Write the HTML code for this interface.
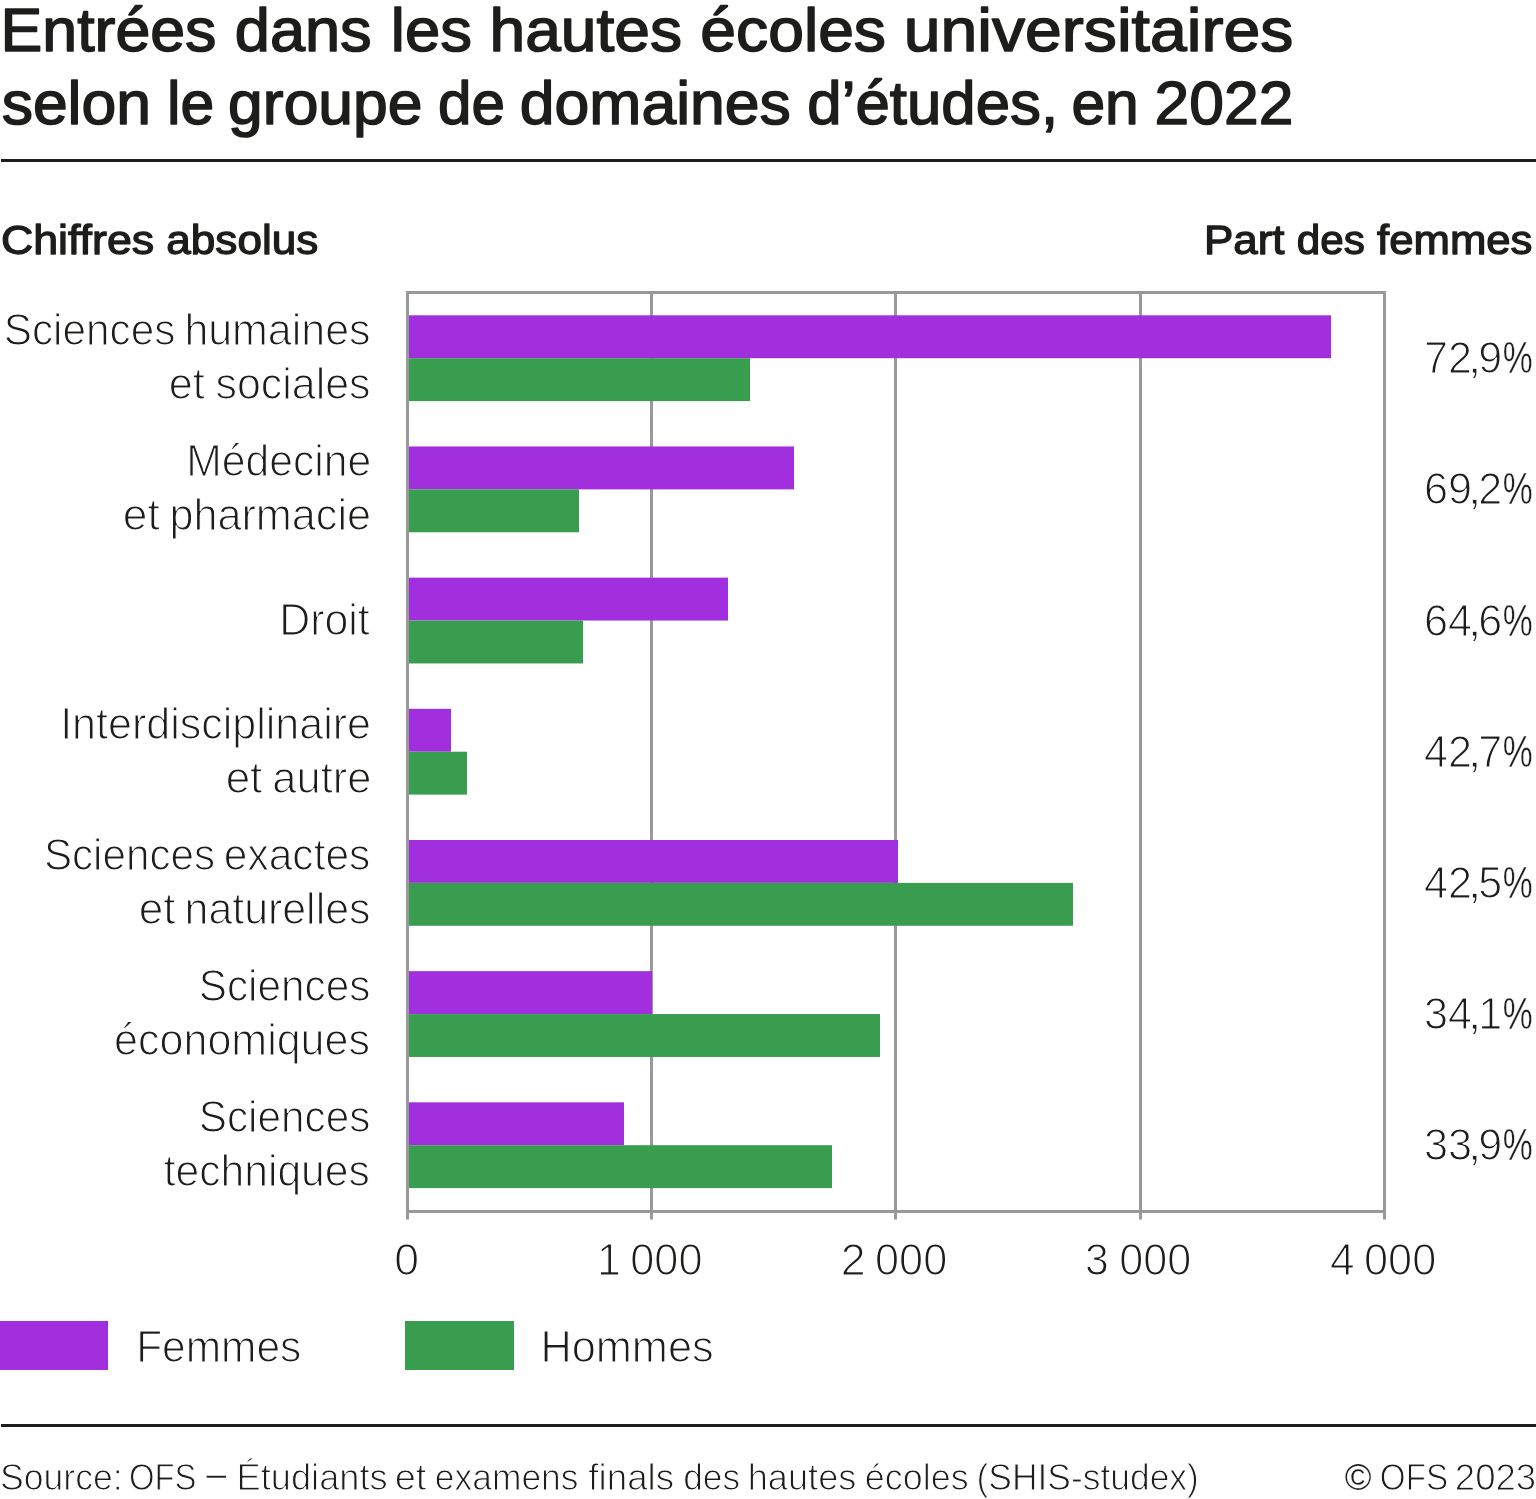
<!DOCTYPE html>
<html lang="fr">
<head>
<meta charset="utf-8">
<title>Entrées dans les hautes écoles universitaires selon le groupe de domaines d’études, en 2022</title>
<style>
html,body{margin:0;padding:0;background:#fff;}
body{width:1536px;height:1499px;overflow:hidden;font-family:"Liberation Sans",sans-serif;}
svg{display:block;}
text{font-family:"Liberation Sans",sans-serif;stroke-linejoin:round;}
</style>
</head>
<body>
<svg width="1536" height="1499" viewBox="0 0 1536 1499" fill="#1d1d1b">
<rect x="0" y="0" width="1536" height="1499" fill="#ffffff"/>
<!-- rules -->
<rect x="1" y="159" width="1535" height="3" fill="#1d1d1b"/>
<rect x="1" y="1424" width="1535" height="3" fill="#1d1d1b"/>
<!-- grid -->
<g stroke="#999999" stroke-width="3" fill="none">
<line x1="651.50" y1="292.5" x2="651.50" y2="1211.5"/>
<line x1="895.50" y1="292.5" x2="895.50" y2="1211.5"/>
<line x1="1140.50" y1="292.5" x2="1140.50" y2="1211.5"/>
</g>
<!-- bars -->
<rect x="409" y="315.30" width="922" height="42.9" fill="#a22fde"/>
<rect x="409" y="358.20" width="341" height="42.9" fill="#399d50"/>
<rect x="409" y="446.47" width="385" height="42.9" fill="#a22fde"/>
<rect x="409" y="489.37" width="170" height="42.9" fill="#399d50"/>
<rect x="409" y="577.64" width="319" height="42.9" fill="#a22fde"/>
<rect x="409" y="620.54" width="174" height="42.9" fill="#399d50"/>
<rect x="409" y="708.81" width="42" height="42.9" fill="#a22fde"/>
<rect x="409" y="751.71" width="58" height="42.9" fill="#399d50"/>
<rect x="409" y="839.98" width="489" height="42.9" fill="#a22fde"/>
<rect x="409" y="882.88" width="664" height="42.9" fill="#399d50"/>
<rect x="409" y="971.15" width="243" height="42.9" fill="#a22fde"/>
<rect x="409" y="1014.05" width="471" height="42.9" fill="#399d50"/>
<rect x="409" y="1102.32" width="215" height="42.9" fill="#a22fde"/>
<rect x="409" y="1145.22" width="423" height="42.9" fill="#399d50"/>
<!-- frame + ticks -->
<g stroke="#999999" stroke-width="3" fill="none">
<rect x="407.5" y="292.5" width="977.0" height="919.0"/>
<line x1="407.50" y1="1211.5" x2="407.50" y2="1219.5"/>
<line x1="651.50" y1="1211.5" x2="651.50" y2="1219.5"/>
<line x1="895.50" y1="1211.5" x2="895.50" y2="1219.5"/>
<line x1="1140.50" y1="1211.5" x2="1140.50" y2="1219.5"/>
<line x1="1384.50" y1="1211.5" x2="1384.50" y2="1219.5"/>
</g>
<!-- legend -->
<rect x="0" y="1321" width="108" height="49" fill="#a22fde"/>
<rect x="405" y="1321" width="109" height="49" fill="#399d50"/>
<!-- text -->
<text font-size="60.3" stroke="#1d1d1b" stroke-width="1.5"><tspan x="0.54" y="51.05" textLength="215.91" lengthAdjust="spacingAndGlyphs">Entrées</tspan> <tspan x="234.82" y="51.05" textLength="136.85" lengthAdjust="spacingAndGlyphs">dans</tspan> <tspan x="390.85" y="51.05" textLength="81.00" lengthAdjust="spacingAndGlyphs">les</tspan> <tspan x="489.51" y="51.05" textLength="192.61" lengthAdjust="spacingAndGlyphs">hautes</tspan> <tspan x="700.35" y="51.05" textLength="185.64" lengthAdjust="spacingAndGlyphs">écoles</tspan> <tspan x="903.71" y="51.05" textLength="389.63" lengthAdjust="spacingAndGlyphs">universitaires</tspan></text>
<text font-size="60.3" stroke="#1d1d1b" stroke-width="1.5"><tspan x="1.66" y="124.15" textLength="149.30" lengthAdjust="spacingAndGlyphs">selon</tspan> <tspan x="166.99" y="124.15" textLength="47.16" lengthAdjust="spacingAndGlyphs">le</tspan> <tspan x="228.14" y="124.15" textLength="194.39" lengthAdjust="spacingAndGlyphs">groupe</tspan> <tspan x="438.10" y="124.15" textLength="66.97" lengthAdjust="spacingAndGlyphs">de</tspan> <tspan x="519.83" y="124.15" textLength="270.97" lengthAdjust="spacingAndGlyphs">domaines</tspan> <tspan x="807.36" y="124.15" textLength="250.71" lengthAdjust="spacingAndGlyphs">d’études,</tspan> <tspan x="1071.46" y="124.15" textLength="67.33" lengthAdjust="spacingAndGlyphs">en</tspan> <tspan x="1154.63" y="124.15" textLength="138.78" lengthAdjust="spacingAndGlyphs">2022</tspan></text>
<text font-size="41.2" stroke="#1d1d1b" stroke-width="1.3"><tspan x="0.91" y="253.55" textLength="153.23" lengthAdjust="spacingAndGlyphs">Chiffres</tspan> <tspan x="166.33" y="253.55" textLength="151.91" lengthAdjust="spacingAndGlyphs">absolus</tspan></text>
<text font-size="41.2" stroke="#1d1d1b" stroke-width="1.3"><tspan x="1203.99" y="253.55" textLength="80.53" lengthAdjust="spacingAndGlyphs">Part</tspan> <tspan x="1296.67" y="253.55" textLength="68.12" lengthAdjust="spacingAndGlyphs">des</tspan> <tspan x="1377.08" y="253.55" textLength="155.34" lengthAdjust="spacingAndGlyphs">femmes</tspan></text>
<text font-size="44.2" stroke="#fff" stroke-width="1.2"><tspan x="3.68" y="345.10" textLength="171.68" lengthAdjust="spacingAndGlyphs">Sciences</tspan> <tspan x="184.38" y="345.10" textLength="186.09" lengthAdjust="spacingAndGlyphs">humaines</tspan></text>
<text font-size="44.2" stroke="#fff" stroke-width="1.2"><tspan x="168.71" y="399.10" textLength="36.02" lengthAdjust="spacingAndGlyphs">et</tspan> <tspan x="215.48" y="399.10" textLength="155.02" lengthAdjust="spacingAndGlyphs">sociales</tspan></text>
<text font-size="44.2" stroke="#fff" stroke-width="1.2"><tspan x="186.14" y="476.27" textLength="185.15" lengthAdjust="spacingAndGlyphs">Médecine</tspan></text>
<text font-size="44.2" stroke="#fff" stroke-width="1.2"><tspan x="122.84" y="530.27" textLength="37.01" lengthAdjust="spacingAndGlyphs">et</tspan> <tspan x="169.41" y="530.27" textLength="201.62" lengthAdjust="spacingAndGlyphs">pharmacie</tspan></text>
<text font-size="44.2" stroke="#fff" stroke-width="1.2"><tspan x="279.23" y="634.84" textLength="90.55" lengthAdjust="spacingAndGlyphs">Droit</tspan></text>
<text font-size="44.2" stroke="#fff" stroke-width="1.2"><tspan x="60.17" y="738.61" textLength="310.81" lengthAdjust="spacingAndGlyphs">Interdisciplinaire</tspan></text>
<text font-size="44.2" stroke="#fff" stroke-width="1.2"><tspan x="225.66" y="792.61" textLength="36.68" lengthAdjust="spacingAndGlyphs">et</tspan> <tspan x="272.35" y="792.61" textLength="98.97" lengthAdjust="spacingAndGlyphs">autre</tspan></text>
<text font-size="44.2" stroke="#fff" stroke-width="1.2"><tspan x="43.89" y="869.78" textLength="171.16" lengthAdjust="spacingAndGlyphs">Sciences</tspan> <tspan x="223.84" y="869.78" textLength="146.52" lengthAdjust="spacingAndGlyphs">exactes</tspan></text>
<text font-size="44.2" stroke="#fff" stroke-width="1.2"><tspan x="138.85" y="923.78" textLength="36.79" lengthAdjust="spacingAndGlyphs">et</tspan> <tspan x="184.54" y="923.78" textLength="185.93" lengthAdjust="spacingAndGlyphs">naturelles</tspan></text>
<text font-size="44.2" stroke="#fff" stroke-width="1.2"><tspan x="198.68" y="1000.95" textLength="171.68" lengthAdjust="spacingAndGlyphs">Sciences</tspan></text>
<text font-size="44.2" stroke="#fff" stroke-width="1.2"><tspan x="114.12" y="1054.95" textLength="255.85" lengthAdjust="spacingAndGlyphs">économiques</tspan></text>
<text font-size="44.2" stroke="#fff" stroke-width="1.2"><tspan x="198.68" y="1132.12" textLength="171.68" lengthAdjust="spacingAndGlyphs">Sciences</tspan></text>
<text font-size="44.2" stroke="#fff" stroke-width="1.2"><tspan x="163.65" y="1186.12" textLength="206.19" lengthAdjust="spacingAndGlyphs">techniques</tspan></text>
<text font-size="44.2" stroke="#fff" stroke-width="1.2"><tspan x="1423.95" y="373.30" textLength="48.06" lengthAdjust="spacingAndGlyphs">72</tspan><tspan x="1467.22" y="373.30" textLength="14.65" lengthAdjust="spacingAndGlyphs">,</tspan><tspan x="1478.25" y="373.30" textLength="23.92" lengthAdjust="spacingAndGlyphs">9</tspan><tspan x="1502.72" y="373.30" textLength="29.99" lengthAdjust="spacingAndGlyphs" stroke-width="0.45">%</tspan></text>
<text font-size="44.2" stroke="#fff" stroke-width="1.2"><tspan x="1423.95" y="504.47" textLength="48.06" lengthAdjust="spacingAndGlyphs">69</tspan><tspan x="1467.22" y="504.47" textLength="14.65" lengthAdjust="spacingAndGlyphs">,</tspan><tspan x="1478.25" y="504.47" textLength="23.92" lengthAdjust="spacingAndGlyphs">2</tspan><tspan x="1502.72" y="504.47" textLength="29.99" lengthAdjust="spacingAndGlyphs" stroke-width="0.45">%</tspan></text>
<text font-size="44.2" stroke="#fff" stroke-width="1.2"><tspan x="1423.95" y="635.64" textLength="48.06" lengthAdjust="spacingAndGlyphs">64</tspan><tspan x="1467.22" y="635.64" textLength="14.65" lengthAdjust="spacingAndGlyphs">,</tspan><tspan x="1478.25" y="635.64" textLength="23.92" lengthAdjust="spacingAndGlyphs">6</tspan><tspan x="1502.72" y="635.64" textLength="29.99" lengthAdjust="spacingAndGlyphs" stroke-width="0.45">%</tspan></text>
<text font-size="44.2" stroke="#fff" stroke-width="1.2"><tspan x="1423.95" y="766.81" textLength="48.06" lengthAdjust="spacingAndGlyphs">42</tspan><tspan x="1467.22" y="766.81" textLength="14.65" lengthAdjust="spacingAndGlyphs">,</tspan><tspan x="1478.25" y="766.81" textLength="23.92" lengthAdjust="spacingAndGlyphs">7</tspan><tspan x="1502.72" y="766.81" textLength="29.99" lengthAdjust="spacingAndGlyphs" stroke-width="0.45">%</tspan></text>
<text font-size="44.2" stroke="#fff" stroke-width="1.2"><tspan x="1423.95" y="897.98" textLength="48.06" lengthAdjust="spacingAndGlyphs">42</tspan><tspan x="1467.22" y="897.98" textLength="14.65" lengthAdjust="spacingAndGlyphs">,</tspan><tspan x="1478.25" y="897.98" textLength="23.92" lengthAdjust="spacingAndGlyphs">5</tspan><tspan x="1502.72" y="897.98" textLength="29.99" lengthAdjust="spacingAndGlyphs" stroke-width="0.45">%</tspan></text>
<text font-size="44.2" stroke="#fff" stroke-width="1.2"><tspan x="1423.95" y="1029.15" textLength="48.06" lengthAdjust="spacingAndGlyphs">34</tspan><tspan x="1467.22" y="1029.15" textLength="14.65" lengthAdjust="spacingAndGlyphs">,</tspan><tspan x="1478.25" y="1029.15" textLength="23.92" lengthAdjust="spacingAndGlyphs">1</tspan><tspan x="1502.72" y="1029.15" textLength="29.99" lengthAdjust="spacingAndGlyphs" stroke-width="0.45">%</tspan></text>
<text font-size="44.2" stroke="#fff" stroke-width="1.2"><tspan x="1423.95" y="1160.32" textLength="48.06" lengthAdjust="spacingAndGlyphs">33</tspan><tspan x="1467.22" y="1160.32" textLength="14.65" lengthAdjust="spacingAndGlyphs">,</tspan><tspan x="1478.25" y="1160.32" textLength="23.92" lengthAdjust="spacingAndGlyphs">9</tspan><tspan x="1502.72" y="1160.32" textLength="29.99" lengthAdjust="spacingAndGlyphs" stroke-width="0.45">%</tspan></text>
<text font-size="44.2" stroke="#fff" stroke-width="1.2"><tspan x="394.21" y="1274.50" textLength="24.83" lengthAdjust="spacingAndGlyphs">0</tspan></text>
<text font-size="44.2" stroke="#fff" stroke-width="1.2"><tspan x="597.10" y="1274.50" textLength="23.84" lengthAdjust="spacingAndGlyphs">1</tspan> <tspan x="630.27" y="1274.50" textLength="72.19" lengthAdjust="spacingAndGlyphs">000</tspan></text>
<text font-size="44.2" stroke="#fff" stroke-width="1.2"><tspan x="840.68" y="1274.50" textLength="24.92" lengthAdjust="spacingAndGlyphs">2</tspan> <tspan x="875.07" y="1274.50" textLength="72.19" lengthAdjust="spacingAndGlyphs">000</tspan></text>
<text font-size="44.2" stroke="#fff" stroke-width="1.2"><tspan x="1085.01" y="1274.50" textLength="23.77" lengthAdjust="spacingAndGlyphs">3</tspan> <tspan x="1119.27" y="1274.50" textLength="72.09" lengthAdjust="spacingAndGlyphs">000</tspan></text>
<text font-size="44.2" stroke="#fff" stroke-width="1.2"><tspan x="1329.92" y="1274.50" textLength="24.63" lengthAdjust="spacingAndGlyphs">4</tspan> <tspan x="1364.07" y="1274.50" textLength="72.19" lengthAdjust="spacingAndGlyphs">000</tspan></text>
<text font-size="44.2" stroke="#fff" stroke-width="1.2"><tspan x="136.17" y="1362.40" textLength="165.09" lengthAdjust="spacingAndGlyphs">Femmes</tspan></text>
<text font-size="44.2" stroke="#fff" stroke-width="1.2"><tspan x="540.49" y="1362.40" textLength="173.12" lengthAdjust="spacingAndGlyphs">Hommes</tspan></text>
<text font-size="36.8" stroke="#fff" stroke-width="1.0"><tspan x="0.09" y="1490.20" textLength="122.57" lengthAdjust="spacingAndGlyphs">Source:</tspan> <tspan x="128.96" y="1490.20" textLength="67.50" lengthAdjust="spacingAndGlyphs">OFS</tspan> <tspan x="206.35" y="1485.80" textLength="19.98" lengthAdjust="spacingAndGlyphs" stroke-width="0.5">–</tspan> <tspan x="236.57" y="1490.20" textLength="151.11" lengthAdjust="spacingAndGlyphs">Étudiants</tspan> <tspan x="394.69" y="1490.20" textLength="31.70" lengthAdjust="spacingAndGlyphs">et</tspan> <tspan x="434.83" y="1490.20" textLength="143.69" lengthAdjust="spacingAndGlyphs">examens</tspan> <tspan x="588.31" y="1490.20" textLength="85.83" lengthAdjust="spacingAndGlyphs">finals</tspan> <tspan x="683.16" y="1490.20" textLength="56.96" lengthAdjust="spacingAndGlyphs">des</tspan> <tspan x="747.77" y="1490.20" textLength="108.55" lengthAdjust="spacingAndGlyphs">hautes</tspan> <tspan x="864.80" y="1490.20" textLength="103.80" lengthAdjust="spacingAndGlyphs">écoles</tspan> <tspan x="976.53" y="1490.20" textLength="222.31" lengthAdjust="spacingAndGlyphs">(SHIS-studex)</tspan></text>
<text font-size="36.8" stroke="#fff" stroke-width="1.0"><tspan x="1344.67" y="1490.20" textLength="26.75" lengthAdjust="spacingAndGlyphs" stroke-width="0.15">©</tspan> <tspan x="1379.84" y="1490.20" textLength="68.24" lengthAdjust="spacingAndGlyphs">OFS</tspan> <tspan x="1454.86" y="1490.20" textLength="81.34" lengthAdjust="spacingAndGlyphs">2023</tspan></text>
</svg>
</body>
</html>
